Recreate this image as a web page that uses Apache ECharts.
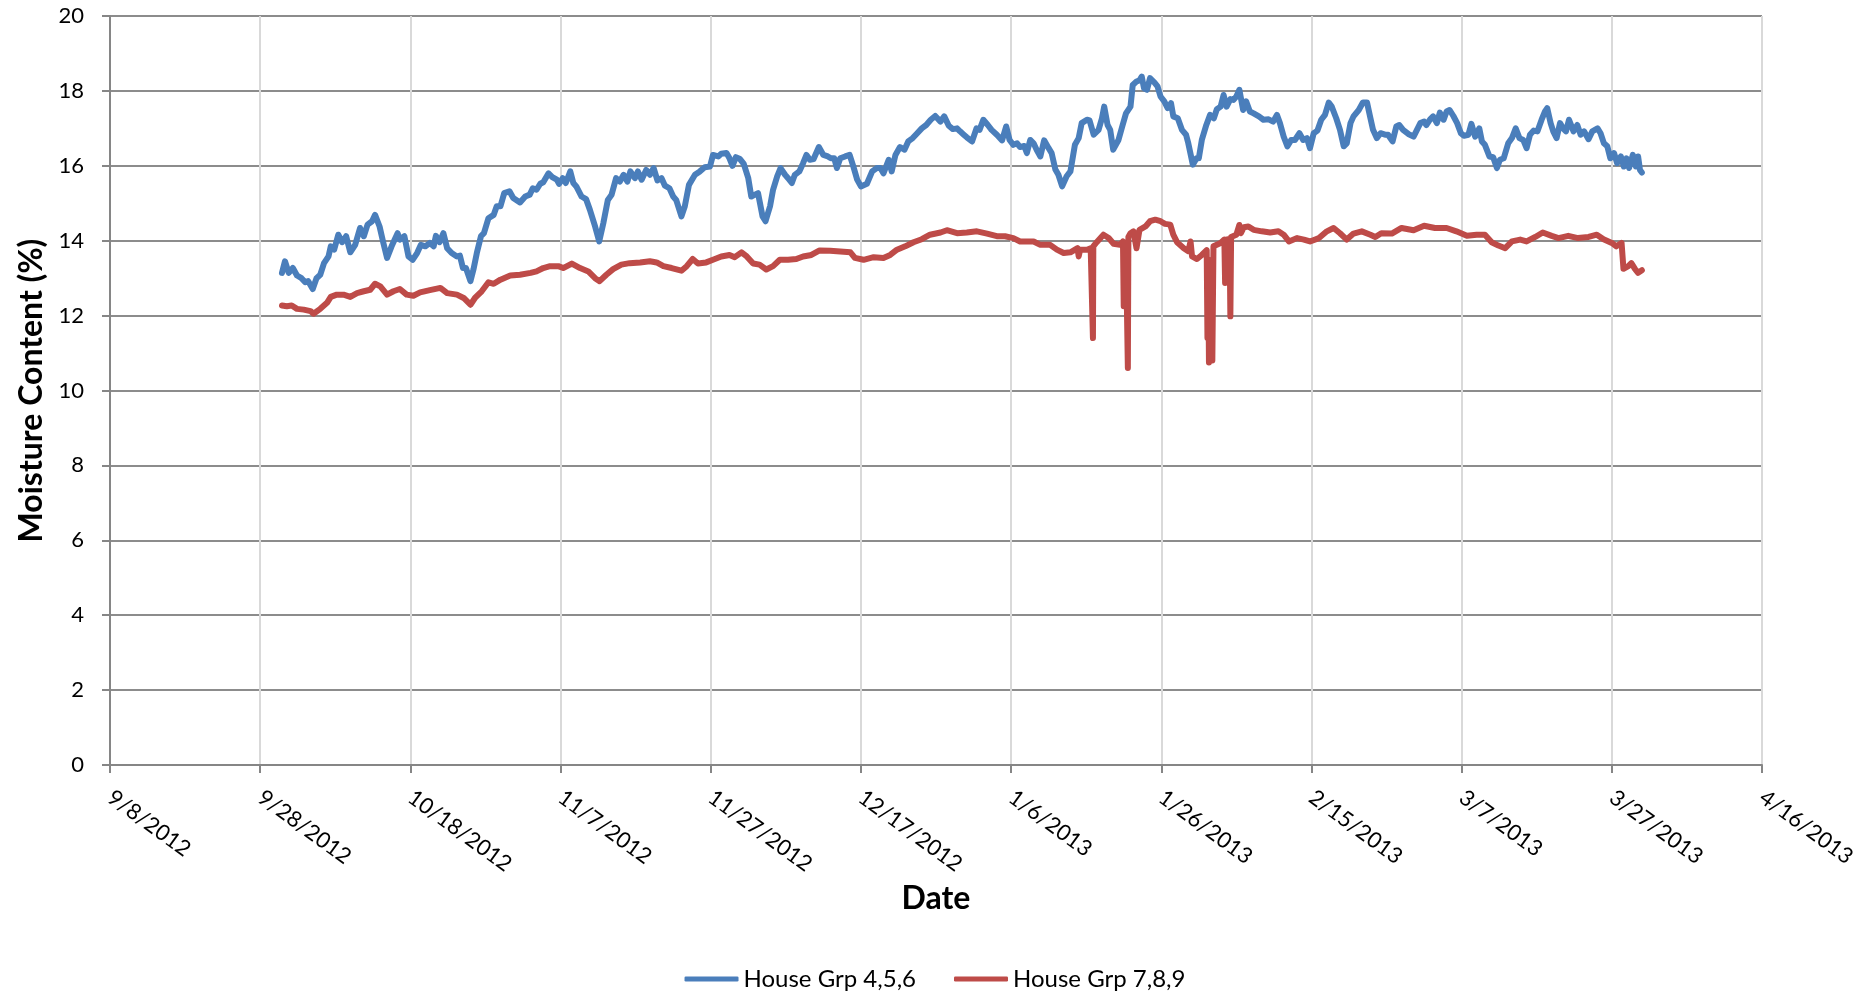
<!DOCTYPE html>
<html>
<head>
<meta charset="utf-8">
<title>Moisture Content</title>
<script src="https://cdn.jsdelivr.net/npm/echarts@6/dist/echarts.min.js"></script>
<style>
  html, body { margin: 0; padding: 0; background: #fff; }
  #chart { width: 1870px; height: 991px; }
</style>
</head>
<body>
<div id="chart"></div>
<script>
// x positions are days since 9/8/2012
const dateTicks = ['9/8/2012', '9/28/2012', '10/18/2012', '11/7/2012', '11/27/2012', '12/17/2012',
  '1/6/2013', '1/26/2013', '2/15/2013', '3/7/2013', '3/27/2013', '4/16/2013'];
const seriesNames = ['House Grp 4,5,6', 'House Grp 7,8,9'];

// House Grp 4,5,6 : [day, moisture %]
const grp456 = [
  [22.9,13.14],[23.3,13.45],[23.8,13.14],[24.35,13.27],[24.9,13.07],[25.5,13.0],[26.0,12.89],[26.4,12.92],
  [27.0,12.71],[27.5,13.0],[28.0,13.09],[28.5,13.4],[29.1,13.58],[29.4,13.85],[29.85,13.76],[30.4,14.16],
  [30.9,13.96],[31.45,14.12],[32.0,13.69],[32.65,13.89],[33.3,14.34],[33.8,14.12],[34.3,14.43],[34.9,14.52],
  [35.3,14.69],[35.9,14.38],[36.4,13.94],[36.9,13.54],[37.5,13.85],[38.3,14.2],[38.6,14.03],[39.2,14.12],
  [39.75,13.58],[40.3,13.49],[40.9,13.67],[41.4,13.89],[42.0,13.85],[42.6,13.94],[43.1,13.85],[43.4,14.13],
  [43.9,13.96],[44.4,14.2],[44.9,13.8],[45.5,13.67],[46.2,13.58],[46.6,13.6],[47.0,13.27],[47.4,13.27],
  [48.0,12.92],[48.4,13.23],[48.85,13.67],[49.4,14.12],[49.8,14.2],[50.4,14.6],[51.1,14.69],[51.5,14.92],
  [52.0,14.92],[52.5,15.27],[53.2,15.32],[53.7,15.14],[54.6,15.02],[55.3,15.18],[55.9,15.23],[56.3,15.4],
  [56.8,15.36],[57.3,15.52],[57.7,15.56],[58.4,15.8],[58.9,15.7],[59.5,15.63],[59.8,15.52],[60.3,15.67],
  [60.7,15.54],[61.3,15.85],[61.7,15.54],[62.1,15.45],[62.8,15.18],[63.4,15.11],[63.9,14.83],[64.6,14.38],
  [65.15,13.98],[65.7,14.47],[66.3,15.09],[66.8,15.23],[67.4,15.67],[67.9,15.58],[68.4,15.76],[68.9,15.58],
  [69.3,15.85],[69.9,15.67],[70.3,15.85],[70.8,15.63],[71.4,15.89],[71.9,15.76],[72.4,15.94],[72.9,15.61],
  [73.45,15.67],[73.9,15.47],[74.5,15.4],[75.0,15.18],[75.4,15.09],[76.1,14.65],[76.55,14.92],[77.1,15.49],
  [77.9,15.76],[78.55,15.85],[79.2,15.96],[79.9,15.98],[80.3,16.29],[81.0,16.25],[81.4,16.32],[82.1,16.34],
  [82.5,16.2],[82.9,16.0],[83.35,16.23],[83.9,16.18],[84.4,16.05],[85.0,15.67],[85.4,15.18],[85.9,15.23],
  [86.3,15.27],[86.9,14.65],[87.3,14.52],[87.9,14.92],[88.3,15.36],[88.85,15.72],[89.3,15.94],[89.9,15.76],
  [90.3,15.67],[90.8,15.54],[91.2,15.76],[91.8,15.85],[92.3,16.07],[92.75,16.29],[93.2,16.16],[93.7,16.18],
  [94.4,16.5],[95.0,16.29],[95.6,16.25],[96.0,16.2],[96.45,16.2],[96.8,15.94],[97.25,16.2],[97.9,16.25],
  [98.5,16.29],[99.0,15.98],[99.5,15.63],[100.0,15.45],[100.8,15.52],[101.5,15.85],[102.1,15.94],[102.6,15.94],
  [103.0,15.8],[103.7,16.16],[104.1,15.85],[104.6,16.29],[105.2,16.5],[105.8,16.43],[106.3,16.65],[106.9,16.74],
  [107.5,16.87],[108.1,17.0],[108.7,17.09],[109.3,17.23],[109.9,17.33],[110.6,17.18],[111.1,17.32],[111.7,17.07],
  [112.25,16.98],[112.8,17.0],[113.2,16.92],[113.7,16.83],[114.1,16.76],[114.8,16.65],[115.4,17.0],[115.8,16.96],
  [116.3,17.23],[116.9,17.09],[117.4,16.96],[118.1,16.83],[118.8,16.68],[119.35,17.05],[119.8,16.69],[120.3,16.56],
  [120.8,16.6],[121.2,16.5],[121.75,16.53],[122.1,16.34],[122.55,16.69],[123.0,16.6],[123.4,16.43],[123.9,16.25],
  [124.4,16.68],[125.0,16.47],[125.4,16.34],[125.9,15.9],[126.3,15.76],[126.8,15.45],[127.4,15.72],[127.9,15.85],
  [128.5,16.56],[129.0,16.74],[129.4,17.14],[130.1,17.23],[130.45,17.21],[131.0,16.83],[131.65,16.96],[132.1,17.27],
  [132.4,17.58],[132.85,17.09],[133.2,16.96],[133.6,16.43],[134.3,16.69],[134.8,17.05],[135.3,17.4],[135.9,17.58],
  [136.2,18.16],[136.7,18.25],[137.1,18.28],[137.4,18.38],[137.7,18.07],[138.1,18.03],[138.5,18.34],[139.1,18.22],
  [139.5,18.12],[139.9,17.85],[140.4,17.72],[140.85,17.54],[141.3,17.67],[141.6,17.32],[142.2,17.27],[142.75,16.96],
  [143.3,16.83],[143.6,16.6],[144.2,16.03],[144.7,16.2],[145.0,16.2],[145.4,16.69],[146.0,17.09],[146.5,17.36],
  [147.0,17.27],[147.4,17.51],[147.9,17.58],[148.3,17.89],[148.7,17.58],[149.2,17.78],[149.6,17.76],[150.0,17.85],
  [150.4,18.03],[150.9,17.49],[151.3,17.72],[151.8,17.45],[152.3,17.4],[153.0,17.32],[153.6,17.23],[154.3,17.24],
  [154.9,17.18],[155.4,17.36],[155.8,17.14],[156.3,16.78],[156.8,16.52],[157.3,16.69],[157.8,16.69],[158.4,16.87],
  [158.9,16.69],[159.4,16.74],[159.8,16.47],[160.3,16.87],[160.8,16.94],[161.3,17.23],[161.8,17.36],[162.3,17.69],
  [162.7,17.58],[163.3,17.27],[163.8,16.96],[164.3,16.52],[164.7,16.6],[165.2,17.14],[165.6,17.32],[166.3,17.49],
  [166.85,17.69],[167.4,17.69],[167.8,17.32],[168.2,16.96],[168.7,16.74],[169.2,16.87],[169.8,16.83],[170.2,16.83],
  [170.8,16.65],[171.3,17.05],[171.7,17.09],[172.2,16.96],[172.9,16.85],[173.6,16.78],[174.0,16.94],[174.5,17.14],
  [175.0,17.18],[175.3,17.09],[175.8,17.24],[176.2,17.32],[176.7,17.14],[177.1,17.42],[177.6,17.23],[178.0,17.45],
  [178.4,17.49],[178.9,17.33],[179.4,17.14],[179.9,16.87],[180.3,16.8],[180.9,16.83],[181.3,17.12],[181.8,16.78],
  [182.35,17.0],[182.7,16.65],[183.1,16.56],[183.7,16.25],[184.2,16.23],[184.7,15.94],[185.1,16.16],[185.6,16.2],
  [186.2,16.6],[186.7,16.74],[187.2,17.0],[187.7,16.74],[188.2,16.69],[188.65,16.47],[189.1,16.83],[189.6,16.94],
  [190.1,16.92],[190.65,17.23],[191.1,17.45],[191.4,17.54],[191.85,17.14],[192.2,16.92],[192.65,16.74],[193.1,17.14],
  [193.5,17.0],[193.9,16.92],[194.3,17.23],[194.9,16.92],[195.4,17.09],[195.85,16.83],[196.3,16.92],[196.9,16.71],
  [197.4,16.92],[198.1,17.0],[198.5,16.87],[198.95,16.6],[199.4,16.52],[199.8,16.2],[200.3,16.34],[200.7,16.07],
  [201.2,16.25],[201.6,15.98],[201.95,16.2],[202.3,15.94],[202.8,16.29],[203.2,15.98],[203.5,16.25],[203.75,15.89],
  [204.0,15.82]
];

// House Grp 7,8,9 : [day, moisture %] (includes the short sensor drop-outs)
const grp789 = [
  [22.9,12.27],[23.55,12.25],[24.2,12.27],[24.9,12.18],[25.8,12.16],[26.7,12.12],[27.1,12.05],[28.0,12.18],
  [28.9,12.34],[29.4,12.5],[30.2,12.56],[31.1,12.56],[32.0,12.5],[32.9,12.6],[33.8,12.65],[34.65,12.69],
  [35.3,12.85],[36.0,12.78],[36.9,12.56],[37.75,12.65],[38.6,12.71],[39.5,12.56],[40.4,12.53],[41.3,12.62],
  [42.6,12.68],[44.0,12.74],[44.9,12.6],[46.2,12.56],[47.1,12.47],[48.0,12.29],[48.6,12.47],[49.5,12.65],
  [50.4,12.89],[51.1,12.85],[52.0,12.96],[53.3,13.07],[54.6,13.09],[56.0,13.14],[56.8,13.18],[57.7,13.27],
  [58.6,13.32],[59.7,13.32],[60.35,13.27],[61.5,13.39],[62.6,13.27],[63.7,13.18],[64.6,13.0],[65.2,12.92],
  [66.1,13.09],[67.0,13.24],[68.1,13.36],[69.2,13.4],[70.6,13.42],[71.9,13.45],[72.8,13.42],[73.7,13.32],
  [74.8,13.27],[76.1,13.2],[76.8,13.32],[77.6,13.51],[78.3,13.39],[79.4,13.42],[80.3,13.49],[81.4,13.58],
  [82.5,13.62],[83.2,13.56],[84.1,13.69],[84.8,13.58],[85.65,13.39],[86.5,13.36],[87.4,13.23],[88.3,13.32],
  [89.2,13.49],[90.3,13.49],[91.4,13.51],[92.3,13.58],[93.4,13.62],[94.5,13.74],[95.9,13.73],[97.25,13.71],
  [98.6,13.69],[99.2,13.54],[100.35,13.49],[101.7,13.56],[103.0,13.54],[103.9,13.62],[104.8,13.76],[105.9,13.85],
  [107.0,13.96],[108.1,14.04],[109.2,14.16],[110.6,14.22],[111.45,14.28],[112.8,14.2],[114.1,14.22],[115.45,14.25],
  [116.8,14.19],[118.1,14.12],[119.2,14.12],[120.3,14.07],[121.2,13.98],[122.1,13.98],[123.0,13.98],[123.9,13.89],
  [125.2,13.89],[126.1,13.76],[127.0,13.67],[127.9,13.69],[128.85,13.8],[129.0,13.58],[129.2,13.76],[130.1,13.76],
  [130.6,13.8],[130.85,13.8],[130.9,11.4],[130.95,13.85],[131.4,13.96],[132.3,14.16],[133.0,14.07],[133.65,13.92],
  [134.5,13.89],[134.9,13.98],[135.0,12.25],[135.1,13.9],[135.3,13.8],[135.5,13.85],[135.55,10.6],[135.62,14.1],
  [135.9,14.2],[136.3,14.25],[136.7,13.8],[137.1,14.29],[137.9,14.38],[138.5,14.52],[139.2,14.56],[139.9,14.52],
  [140.5,14.45],[141.2,14.43],[141.6,14.16],[142.1,13.96],[143.0,13.8],[143.6,13.72],[143.9,13.98],[144.1,13.58],
  [144.75,13.51],[145.4,13.62],[146.05,13.75],[146.15,11.4],[146.25,13.5],[146.35,10.75],[146.55,10.7],[146.7,13.2],
  [146.8,10.8],[146.95,13.85],[147.9,13.94],[148.4,14.03],[148.5,12.87],[148.6,14.03],[149.1,14.05],[149.2,11.98],
  [149.3,14.1],[149.5,14.12],[150.0,14.16],[150.4,14.42],[150.6,14.2],[151.0,14.36],[151.6,14.38],[152.3,14.29],
  [153.4,14.25],[154.5,14.22],[155.6,14.25],[156.3,14.16],[157.0,13.98],[158.1,14.07],[159.0,14.03],[159.8,13.98],
  [161.0,14.07],[162.05,14.25],[162.95,14.34],[163.8,14.2],[164.7,14.03],[165.6,14.19],[166.7,14.25],[167.85,14.16],
  [168.5,14.1],[169.3,14.2],[170.7,14.19],[172.0,14.34],[173.6,14.28],[175.0,14.4],[176.45,14.34],[178.0,14.34],
  [179.3,14.25],[180.7,14.13],[182.0,14.16],[183.1,14.16],[184.0,13.96],[184.9,13.87],[185.8,13.8],[186.7,13.98],
  [187.8,14.03],[188.65,13.98],[189.8,14.1],[190.8,14.22],[192.0,14.13],[192.9,14.07],[194.2,14.13],[195.5,14.07],
  [196.9,14.1],[198.0,14.16],[198.9,14.04],[200.0,13.94],[200.6,13.85],[201.3,13.94],[201.45,13.9],[201.55,13.25],
  [202.2,13.32],[202.6,13.4],[203.1,13.24],[203.5,13.14],[204.0,13.21]
];

const FONT = 'Lato, "Open Sans", sans-serif';
const chart = echarts.init(document.getElementById('chart'), null, { renderer: 'canvas' });

chart.setOption({
  animation: false,
  backgroundColor: '#ffffff',
  textStyle: { fontFamily: FONT, color: '#000' },
  grid: { left: 110, right: 108, top: 16, bottom: 226, containLabel: false },
  legend: {
    data: seriesNames,
    top: 962,
    left: 'center',
    icon: 'roundRect',
    itemWidth: 54,
    itemHeight: 5,
    itemGap: 38,
    textStyle: { fontFamily: FONT, fontSize: 24, color: '#000' }
  },
  xAxis: {
    type: 'value',
    min: 0,
    max: 220,
    interval: 20,
    name: 'Date',
    nameLocation: 'middle',
    nameGap: 116,
    nameTextStyle: { fontFamily: FONT, fontSize: 32, fontWeight: 'bold', color: '#000' },
    axisLine: { show: true, lineStyle: { color: '#868686', width: 2 } },
    axisTick: { show: true, inside: false, length: 8, lineStyle: { color: '#868686', width: 2 } },
    axisLabel: {
      fontFamily: FONT, fontSize: 22, color: '#000', rotate: -36, margin: 30,
      formatter: v => dateTicks[Math.round(v / 20)]
    },
    splitLine: { show: true, lineStyle: { color: '#d9d9d9', width: 2 } }
  },
  yAxis: {
    type: 'value',
    min: 0,
    max: 20,
    interval: 2,
    name: 'Moisture Content (%)',
    nameLocation: 'middle',
    nameRotate: 90,
    nameGap: 62,
    nameTextStyle: { fontFamily: FONT, fontSize: 32, fontWeight: 'bold', color: '#000' },
    axisLine: { show: true, lineStyle: { color: '#868686', width: 2 } },
    axisTick: { show: true, inside: false, length: 8, lineStyle: { color: '#868686', width: 2 } },
    axisLabel: { fontFamily: FONT, fontSize: 22, color: '#000', margin: 26 },
    splitLine: { show: true, lineStyle: { color: '#8c8c8c', width: 2 } }
  },
  series: [
    {
      name: seriesNames[0],
      type: 'line',
      data: grp456,
      symbol: 'none',
      lineStyle: { color: '#4a7ebb', width: 6, join: 'round', cap: 'round' },
      itemStyle: { color: '#4a7ebb' }
    },
    {
      name: seriesNames[1],
      type: 'line',
      data: grp789,
      symbol: 'none',
      lineStyle: { color: '#be4b48', width: 6, join: 'round', cap: 'round' },
      itemStyle: { color: '#be4b48' }
    }
  ]
});
</script>
</body>
</html>
